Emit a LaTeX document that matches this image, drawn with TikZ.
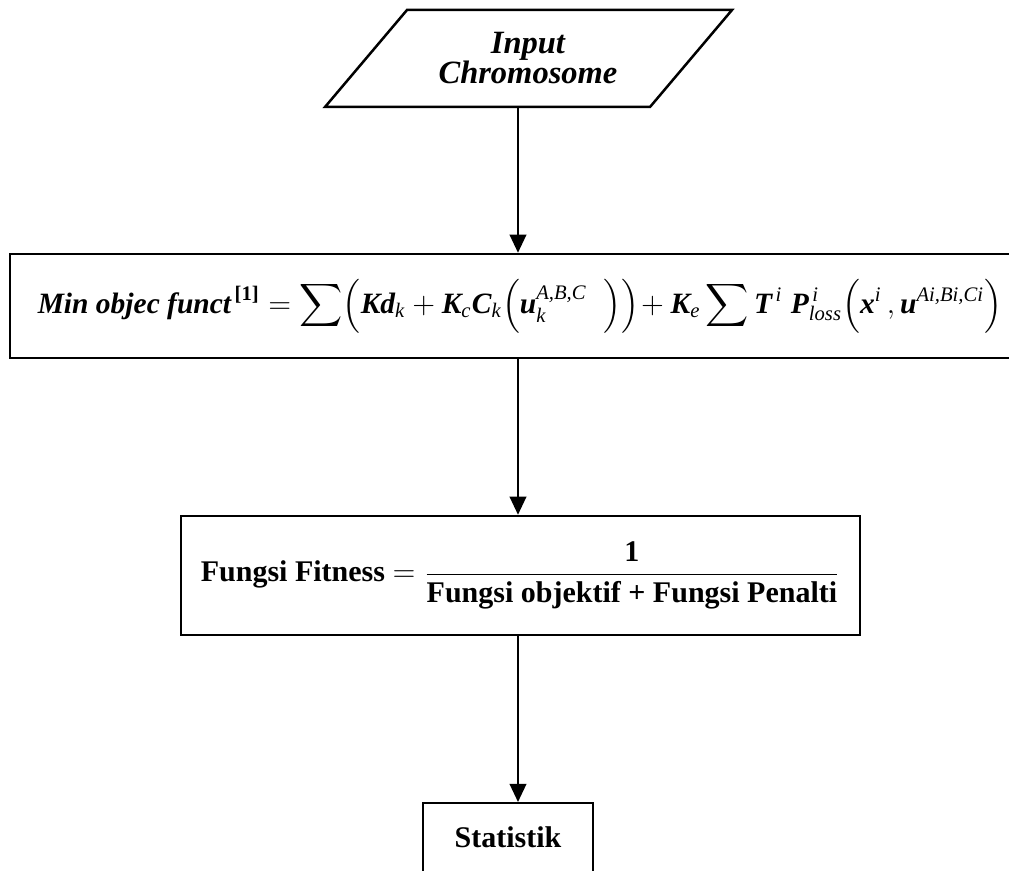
\documentclass[tikz,border=0pt]{standalone}
\usepackage{amsmath}
\usepackage{fontspec}
\setmainfont{Liberation Serif}
\usetikzlibrary{arrows.meta}

% bold italic letters and italic indices inside formulas
\newcommand\bi[1]{\text{\bfseries\itshape #1}}
\newcommand\si[1]{\text{\itshape #1}}

\begin{document}
\begin{tikzpicture}[x=0.4pt,y=-0.4pt,
  outline/.style={draw=black,line width=1pt},
  box/.style={outline,rectangle,inner sep=0pt},
  arr/.style={draw=black,line width=0.8pt,-{Triangle[length=7.2pt,width=6.6pt]}},
  txt/.style={font=\fontsize{12}{14}\selectfont\bfseries}]
\clip (0,0) rectangle (1009,871);
\fill[white] (0,0) rectangle (1009,871);

% input parallelogram
\draw[outline,line join=miter] (325,107) -- (407,10) -- (732,10) -- (650,107) -- cycle;
\node[align=center,inner sep=0pt,font=\fontsize{13}{12}\selectfont\bfseries\itshape] (in) at (528,58) {Input\\Chromosome};
\coordinate (inb) at (518,107);

% objective function
\node[box,minimum width=408pt,minimum height=41.6pt,font=\fontsize{11.8}{14}\selectfont] (obj) at (520,306)
  {$\bi{Min objec funct}^{\,\textbf{[1]}} = \displaystyle\sum\Bigl(\bi{Kd}_{\si{k}} + \bi{K}_{\si{c}}\bi{C}_{\si{k}}\Bigl(\bi{u}_{\si{k}}^{\si{A,B,C}}\;\;\Bigr)\Bigr)\!+\bi{K}_{\si{e}}\displaystyle\sum\bi{T}^{\,\si{i}}\;\bi{P}^{\,\si{i}}_{\si{loss}}\Bigl(\bi{x}^{\si{i}}\,,\bi{u}^{\si{Ai,Bi,Ci}}\Bigr)$\hspace{24pt}};

% fitness
\node[box,minimum width=271.6pt,minimum height=47.6pt,txt] (fit) at (520.5,575.5)
  {Fungsi Fitness $=\dfrac{\textbf{1}}{\textbf{Fungsi objektif + Fungsi Penalti}}$};

% statistics
\node[box,anchor=north,minimum width=68pt,text height=17.6pt,text depth=30.4pt,txt] (stat) at (508,802) {Statistik};

% connectors
\draw[arr] (inb) -- (inb |- obj.north);
\draw[arr] (obj.south -| inb) -- (fit.north -| inb);
\draw[arr] (fit.south -| inb) -- (stat.north -| inb);
\end{tikzpicture}
\end{document}
